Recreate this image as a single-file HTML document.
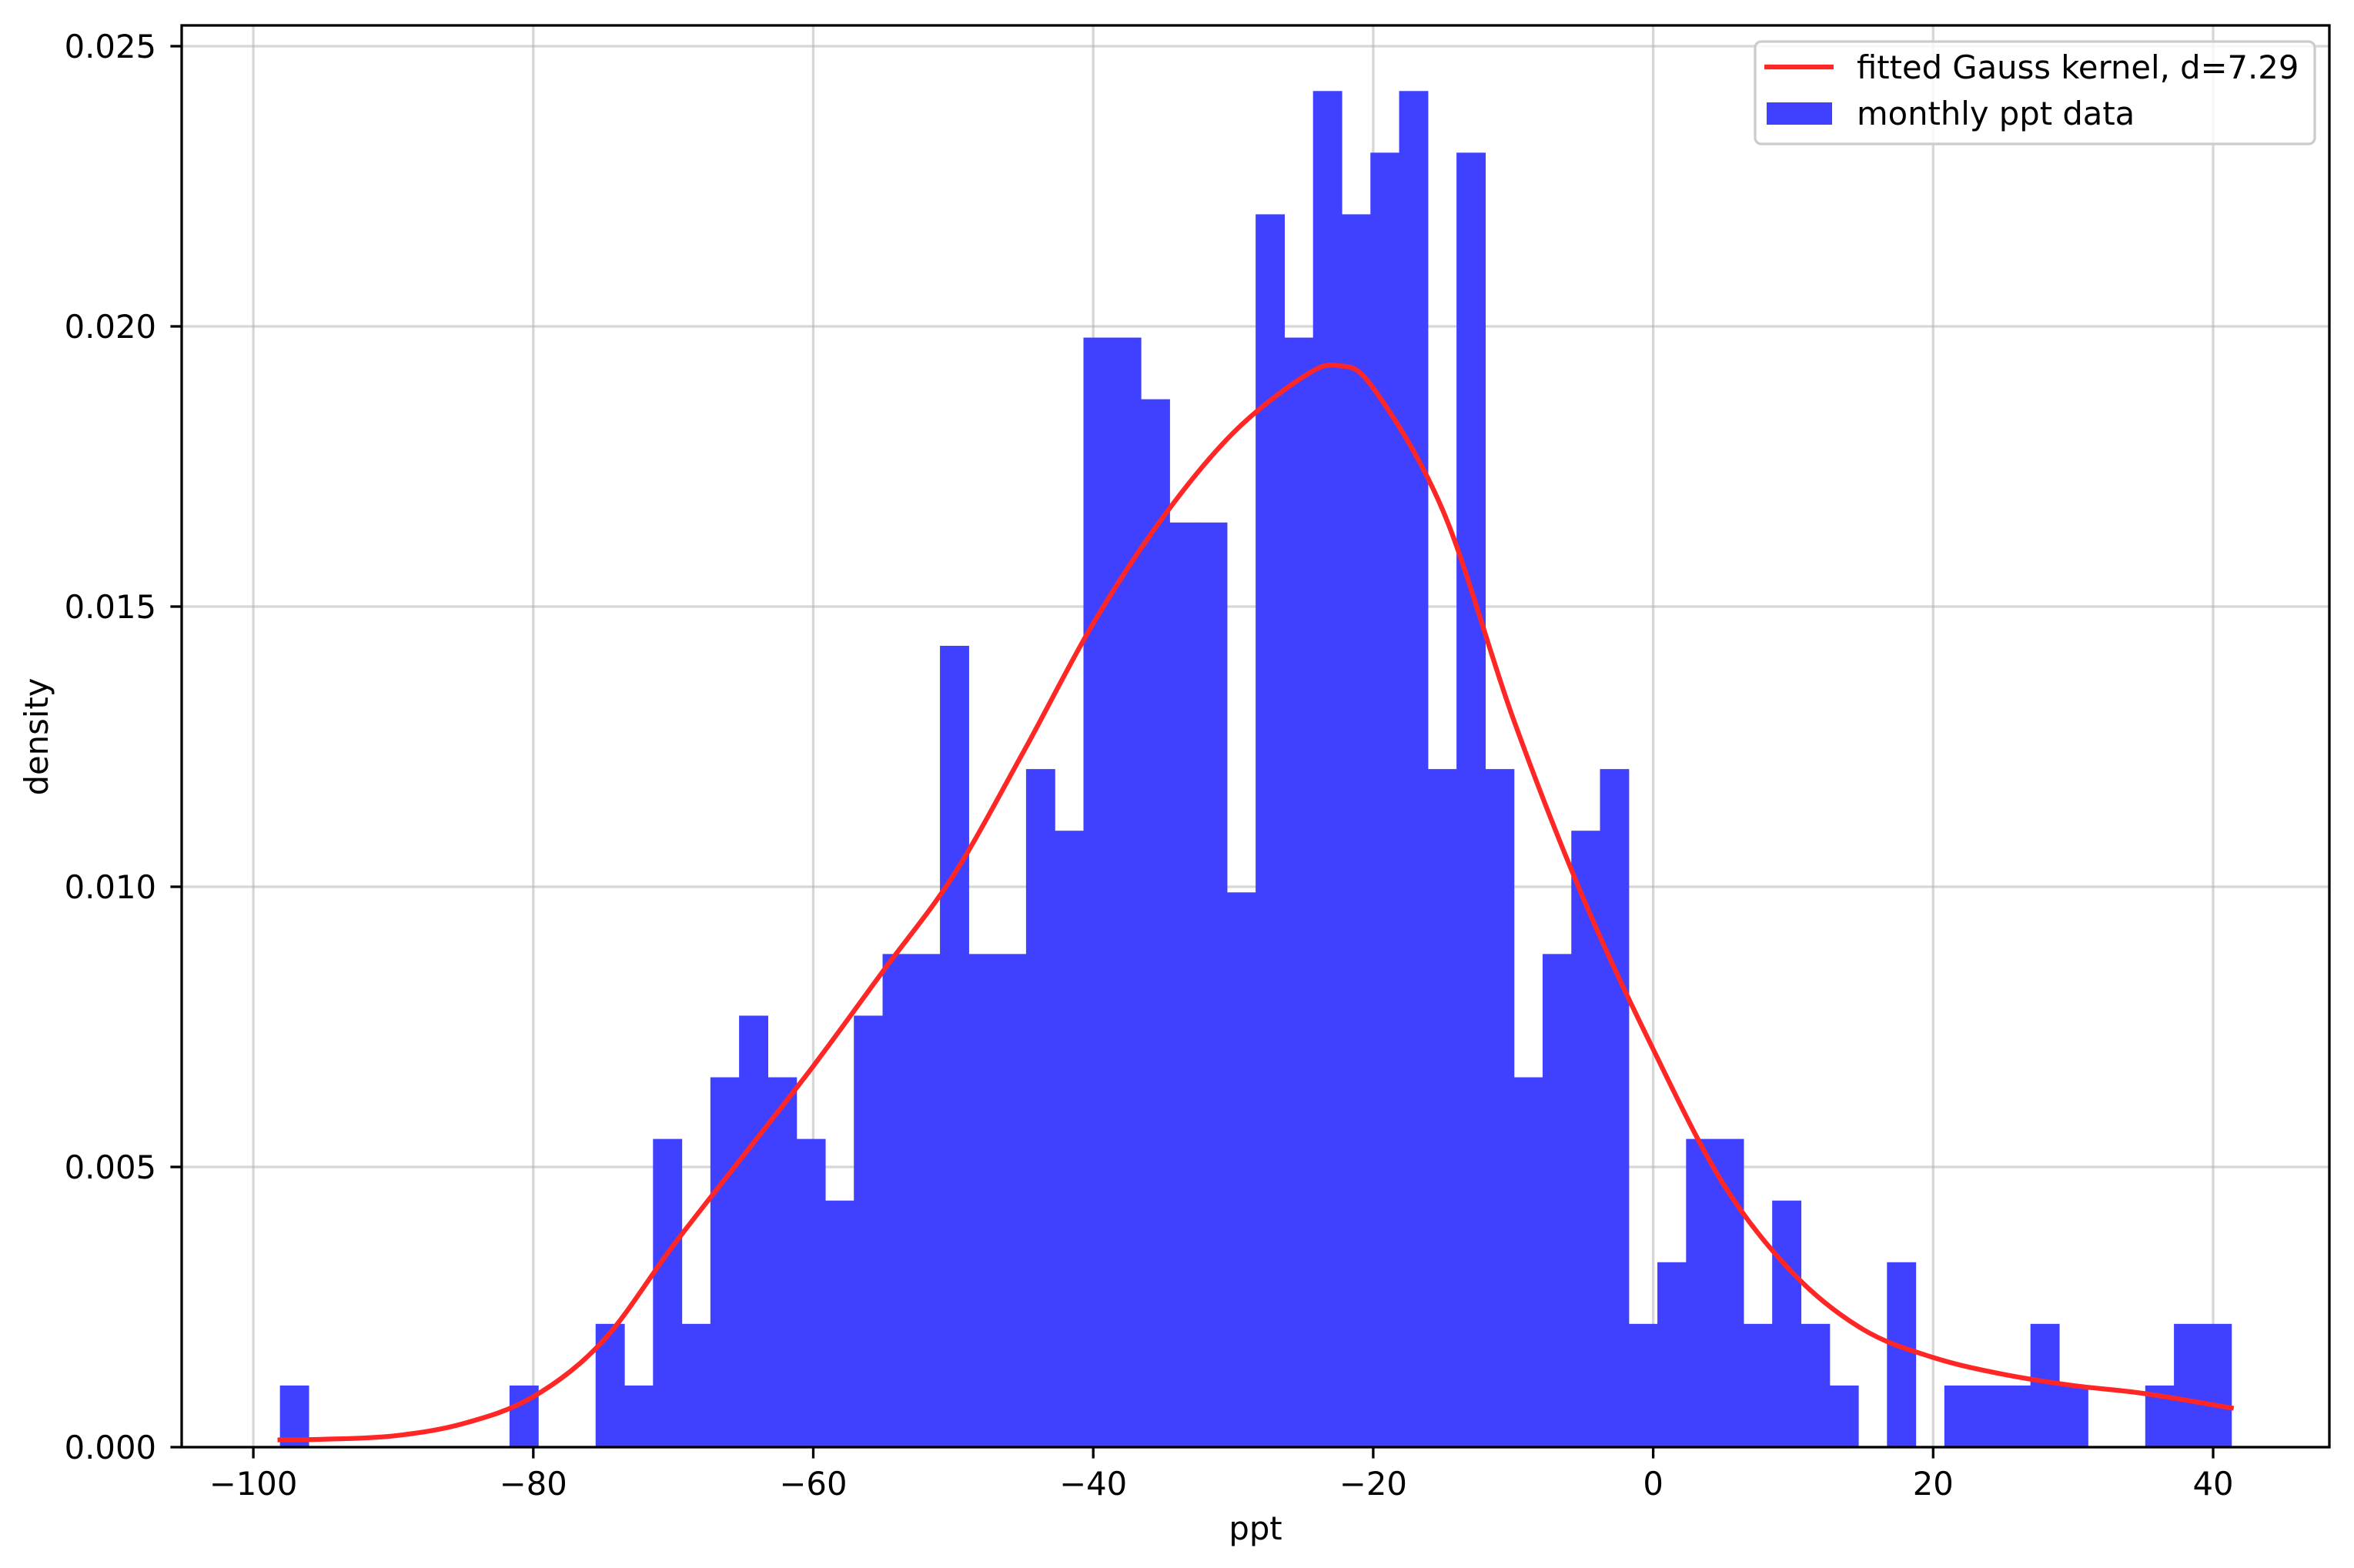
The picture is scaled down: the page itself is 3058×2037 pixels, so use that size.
<!DOCTYPE html>
<html><head><meta charset="utf-8"><style>
html,body{margin:0;padding:0;background:#fff;}
svg{display:block;font-family:"DejaVu Sans","Liberation Sans",sans-serif;}
</style></head><body>
<svg id="chart" width="3058" height="2037" viewBox="0 0 3058 2037" xmlns="http://www.w3.org/2000/svg">
<rect x="0" y="0" width="3058" height="2037" fill="#fff"/>
<g id="grid"></g>
<g id="bars"></g>
<path id="kde" fill="none" stroke="#ff2626" stroke-width="6.25" stroke-linejoin="round" stroke-linecap="square"/>
<rect x="236" y="33" width="2790" height="1847" fill="none" stroke="#000" stroke-width="3.3"/>
<g id="xticks"></g>
<g id="yticks"></g>
<text x="1631" y="2000" font-size="41.7" text-anchor="middle">ppt</text>
<text x="0" y="0" font-size="41.7" text-anchor="middle" transform="translate(62,957) rotate(-90)">density</text>
<g>
<rect x="2280" y="54" width="727" height="133" rx="8" fill="#fff" fill-opacity="0.8" stroke="#ccc" stroke-width="3.3"/>
<line x1="2292" y1="87" x2="2382" y2="87" stroke="#ff2626" stroke-width="6.25"/>
<text x="2412" y="102" font-size="41.7">fitted Gauss kernel, d=7.29</text>
<rect x="2295" y="133" width="85" height="29" fill="#4040ff"/>
<text x="2412" y="162" font-size="41.7">monthly ppt data</text>
</g>
</svg>
<script>
const binStart = -98.1;
const binWidth = 2.05;
const densities = [0.0011,0,0,0,0,0,0,0,0.0011,0,0,
0.0022,0.0011,0.0055,0.0022,0.0066,0.0077,0.0066,0.0055,0.0044,0.0077,
0.0088,0.0088,0.0143,0.0088,0.0088,0.0121,0.0110,0.0198,0.0198,0.0187,
0.0165,0.0165,0.0099,0.0220,0.0198,0.0242,0.0220,0.0231,0.0242,0.0121,
0.0231,0.0121,0.0066,0.0088,0.0110,0.0121,0.0022,0.0033,0.0055,0.0055,
0.0022,0.0044,0.0022,0.0011,0,0.0033,0,0.0011,0.0011,0.0011,
0.0022,0.0011,0,0,0.0011,0.0022,0.0022];
const kdeX = [-98.1,-95,-90,-85,-80,-75,-70,-65,-60,-55,-50,-45,-40,-35,-30,-25,-22.5,-20,-15,-10,-5,0,5,10,15,20,25,30,35,41.3];
const kdeY = [0.00013,0.00014,0.0002,0.00042,0.0009,0.0019,0.0036,0.0052,0.0068,0.0085,0.0102,0.0124,0.0147,0.0166,0.0181,0.0191,0.0193,0.0189,0.0167,0.0130,0.0098,0.0071,0.0047,0.0031,0.0021,0.0016,0.0013,0.0011,0.00096,0.0007];
const xTicks = [-100,-80,-60,-40,-20,0,20,40];
const xTickLabels = ["\u2212100","\u221280","\u221260","\u221240","\u221220","0","20","40"];
const yTicks = [0,0.005,0.010,0.015,0.020,0.025];
const yTickLabels = ["0.000","0.005","0.010","0.015","0.020","0.025"];

const NS = "http://www.w3.org/2000/svg";
function X(v){ return 2147.6 + v * 18.185; }
function Y(d){ return 1880 - d * 72800; }
function mk(tag, attrs, parent){
  const e = document.createElementNS(NS, tag);
  for (const k in attrs) e.setAttribute(k, attrs[k]);
  parent.appendChild(e);
  return e;
}
const grid = document.getElementById('grid');
const bars = document.getElementById('bars');
const xt = document.getElementById('xticks');
const yt = document.getElementById('yticks');

xTicks.forEach((v,i)=>{
  const g = mk('line',{x1:X(v),x2:X(v),y1:33,y2:1880,stroke:'#b0b0b0','stroke-opacity':0.5,'stroke-width':3.3},grid);
  
  
  const t = mk('line',{x1:X(v),x2:X(v),y1:1880,y2:1894.6,stroke:'#000','stroke-width':3.3},xt);
  
  
  const l = mk('text',{x:X(v),y:1942,'font-size':41.7,'text-anchor':'middle'},xt);
  l.textContent = xTickLabels[i];
  
  
});
yTicks.forEach((v,i)=>{
  const g = mk('line',{x1:236,x2:3026,y1:Y(v),y2:Y(v),stroke:'#b0b0b0','stroke-opacity':0.5,'stroke-width':3.3},grid);
  
  
  const t = mk('line',{x1:221.4,x2:236,y1:Y(v),y2:Y(v),stroke:'#000','stroke-width':3.3},yt);
  
  
  const l = mk('text',{x:203,y:Y(v)+15,'font-size':41.7,'text-anchor':'end'},yt);
  l.textContent = yTickLabels[i];
  
  
});
densities.forEach((d,i)=>{
  if (d <= 0) return;
  const x0 = X(binStart + i*binWidth), x1 = X(binStart + (i+1)*binWidth);
  const r = mk('rect',{x:x0,y:Y(d),width:x1-x0+0.6,height:Y(0)-Y(d),fill:'#4040ff'},bars);
  
  
});
const pts = kdeX.map((v,i)=>[X(v),Y(kdeY[i])]);
let dStr = 'M'+pts[0][0]+','+pts[0][1];
for (let i=0;i<pts.length-1;i++){
  const p0 = pts[Math.max(0,i-1)], p1 = pts[i], p2 = pts[i+1], p3 = pts[Math.min(pts.length-1,i+2)];
  const c1x = p1[0]+(p2[0]-p0[0])/6, c1y = p1[1]+(p2[1]-p0[1])/6;
  const c2x = p2[0]-(p3[0]-p1[0])/6, c2y = p2[1]-(p3[1]-p1[1])/6;
  dStr += ' C'+c1x+','+c1y+' '+c2x+','+c2y+' '+p2[0]+','+p2[1];
}
document.getElementById('kde').setAttribute('d', dStr);
</script>
</body></html>
